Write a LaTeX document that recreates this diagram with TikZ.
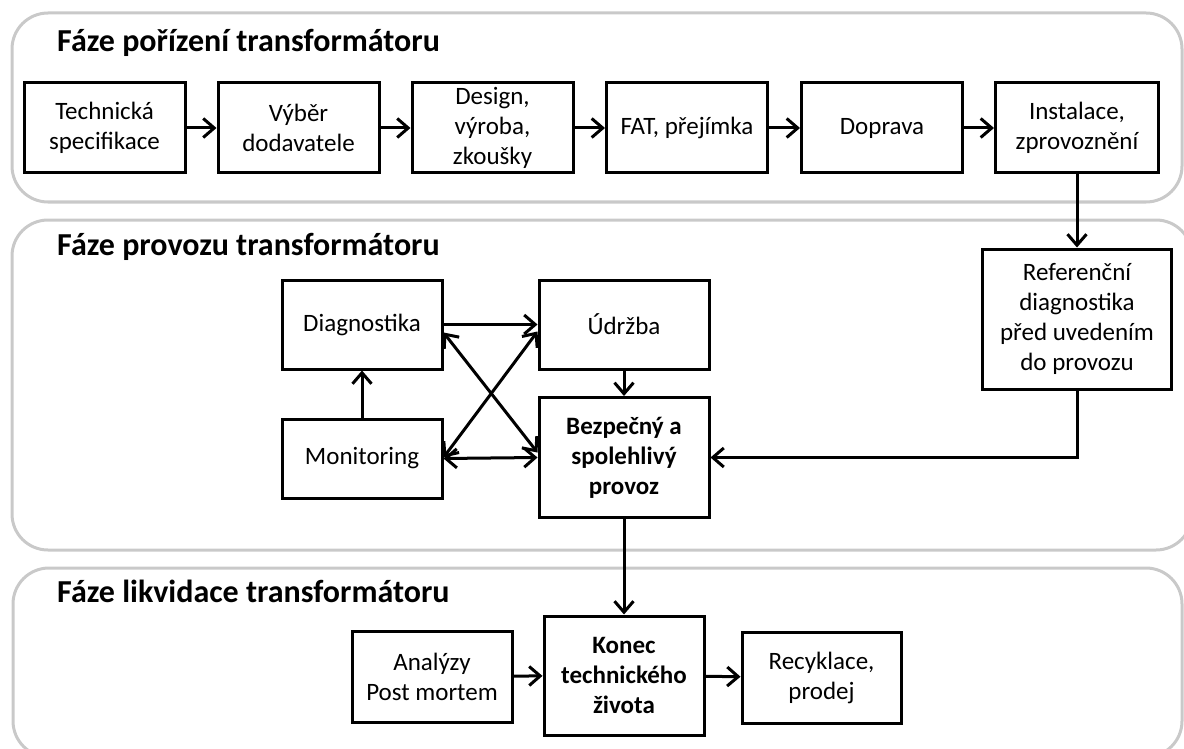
\documentclass[tikz,border=0pt]{standalone}
\usepackage{fontspec}
\setmainfont{Carlito}
\usetikzlibrary{arrows.meta}
\begin{document}
\begin{tikzpicture}[x=1pt,y=-1pt,
  panel/.style={draw=black!21, line width=3pt, rounded corners=36pt},
  box/.style={draw=black, line width=3pt, fill=white, align=center,
    font=\fontsize{25}{30}\selectfont, inner sep=0pt},
  boldbox/.style={box, font=\fontsize{25}{30}\selectfont\bfseries},
  ptitle/.style={anchor=base west, inner sep=0pt,
    font=\fontsize{32}{38}\selectfont\bfseries},
  tip/.tip={Straight Barb[length=11pt,width=19pt,line width=3pt]},
  arr/.style={line width=3pt, -tip},
  barr/.style={line width=3pt, tip-tip},
]
\useasboundingbox (0,0) rectangle (1184,749);

% panels
\draw[panel] (12,13) rectangle (1182,202);
\draw[panel] (12,220) rectangle (1192,550);
\draw[panel] (13,568) rectangle (1182,757);

% titles
\node[ptitle] (t1) at (57,52) {Fáze pořízení transformátoru};
\node[ptitle] (t2) at (57,255) {Fáze provozu transformátoru};
\node[ptitle] (t3) at (57,602) {Fáze likvidace transformátoru};

% top row
\node[box, minimum width=161pt, minimum height=90pt] (b1) at (104.5,128) {Technická\\specifikace};
\node[box, minimum width=161pt, minimum height=90pt] (b2) at (298.5,128) {Výběr\\dodavatele};
\node[box, minimum width=161pt, minimum height=90pt] (b3) at (492.5,128) {Design,\\výroba,\\zkoušky};
\node[box, minimum width=161pt, minimum height=90pt] (b4) at (687,128) {FAT, přejímka};
\node[box, minimum width=161pt, minimum height=90pt] (b5) at (882,128) {Doprava};
\node[box, minimum width=163pt, minimum height=90pt] (b6) at (1077,128) {Instalace,\\zprovoznění};

\draw[arr] (b1) -- (b2);
\draw[arr] (b2) -- (b3);
\draw[arr] (b3) -- (b4);
\draw[arr] (b4) -- (b5);
\draw[arr] (b5) -- (b6);

% operation phase
\node[box, minimum width=189pt, minimum height=140pt] (ref) at (1077,319) {Referenční\\diagnostika\\před uvedením\\do provozu};
\node[box, minimum width=160pt, minimum height=89pt] (diag) at (362,324.5) {Diagnostika};
\node[box, minimum width=160pt, minimum height=79pt] (mon) at (362,458.5) {Monitoring};
\node[box, minimum width=170pt, minimum height=89pt] (udr) at (624,324.5) {Údržba};
\node[boldbox, minimum width=170pt, minimum height=120pt] (bez) at (624,457.5) {Bezpečný a\\spolehlivý\\provoz};

\draw[arr] (b6) -- (ref);
\draw[arr] (ref.south) |- (bez.east);
\draw[arr] (mon) -- (diag);
\draw[arr] (udr) -- (bez);
\draw[arr] (diag.east) -- (udr.west);
\draw[barr] (mon.east) -- (bez.west);
\draw[barr] ([yshift=-8pt]diag.east) -- ([yshift=5pt]bez.west);
\draw[barr] ([yshift=1pt]mon.east) -- ([yshift=-7pt]udr.west);

% end-of-life phase
\node[box, minimum width=160pt, minimum height=91pt] (ana) at (432,676.5) {Analýzy\\Post mortem};
\node[boldbox, minimum width=160pt, minimum height=119pt] (kon) at (624,675.5) {Konec\\technického\\života};
\node[box, minimum width=159pt, minimum height=91pt] (rec) at (821.5,677.5) {Recyklace,\\prodej};

\draw[arr] (bez.south) -- (kon.north);
\draw[arr] (ana) -- (kon);
\draw[arr] (kon) -- (rec);
\end{tikzpicture}
\end{document}
